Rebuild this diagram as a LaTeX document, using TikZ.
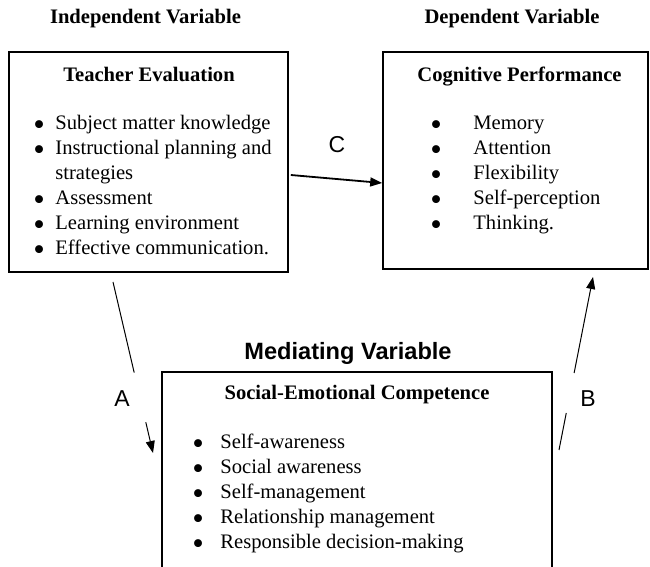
\documentclass[tikz,border=0pt]{standalone}
\usepackage{fontspec}
\setmainfont{Liberation Serif}
\newfontfamily\arialfont{Liberation Sans}
\usetikzlibrary{positioning}
\usetikzlibrary{calc}
\usetikzlibrary{arrows.meta}
\tikzset{varbox/.style={draw, line width=0.8pt, inner sep=0pt}}
\tikzset{boxTitle/.style={anchor=base, inner sep=0pt, font=\fontsize{10.3}{12.5}\selectfont\bfseries}}
\tikzset{itemTxt/.style={anchor=base west, inner sep=0pt, font=\fontsize{10.3}{12.5}\selectfont}}
\tikzset{pathLbl/.style={anchor=base, inner sep=0pt, font=\arialfont\fontsize{11.5}{13}\selectfont}}
\tikzset{thinArr/.style={line width=0.5pt, -{Triangle[length=6pt,width=4.5pt]}}}
\tikzset{thickArr/.style={line width=0.9pt, -{Triangle[length=6pt,width=4.5pt]}}}
\newcommand{\bul}[1]{\makebox[#1][l]{\smash{\raisebox{-2.9pt}{\scalebox{1.6}{\textbullet}}}}}

\begin{document}
\begin{tikzpicture}[x=0.5pt, y=-0.5pt]
\useasboundingbox (0,0) rectangle (650,567);

% variable headings
\node[boxTitle] (indHead) at (145.5,24) {Independent Variable};
\node[boxTitle] (depHead) at (512,24) {Dependent Variable};
\node[anchor=base, inner sep=0pt, font=\arialfont\fontsize{11.8}{14}\selectfont\bfseries] (medHead) at (348,360) {Mediating Variable};

% the three boxes
\node[varbox, minimum width=139.5pt, minimum height=110pt] (tchr) at (148.5,162) {};
\node[varbox, minimum width=132.5pt, minimum height=108.5pt] (cogn) at (515.5,160.5) {};
\node[varbox, minimum width=195pt, minimum height=106.5pt] (sec) at (357,478.5) {};

\node[boxTitle] (tchrTitle) at (149,82) {Teacher Evaluation};
\node[boxTitle] (cognTitle) at (519.5,82) {Cognitive Performance};
\node[boxTitle] (secTitle) at (357,400) {Social-Emotional Competence};

\node[itemTxt] (t1) at (33,130) {\bul{11pt}Subject matter knowledge};
\node[itemTxt] (t2) at (33,155) {\bul{11pt}Instructional planning and};
\node[itemTxt] (t2b) at (55,180) {strategies};
\node[itemTxt] (t3) at (33,205) {\bul{11pt}Assessment};
\node[itemTxt] (t4) at (33,230) {\bul{11pt}Learning environment};
\node[itemTxt] (t5) at (33,255) {\bul{11pt}Effective communication.};

\node[itemTxt] (c1) at (430,130) {\bul{21.5pt}Memory};
\node[itemTxt] (c2) at (430,155) {\bul{21.5pt}Attention};
\node[itemTxt] (c3) at (430,180) {\bul{21.5pt}Flexibility};
\node[itemTxt] (c4) at (430,205) {\bul{21.5pt}Self-perception};
\node[itemTxt] (c5) at (430,230) {\bul{21.5pt}Thinking.};

\node[itemTxt] (s1) at (192,449) {\bul{14pt}Self-awareness};
\node[itemTxt] (s2) at (192,474) {\bul{14pt}Social awareness};
\node[itemTxt] (s3) at (192,499) {\bul{14pt}Self-management};
\node[itemTxt] (s4) at (192,524) {\bul{14pt}Relationship management};
\node[itemTxt] (s5) at (192,549) {\bul{14pt}Responsible decision-making};

% paths
\coordinate (aTop) at (113,282);
\coordinate (aEnd) at (153,453);
\coordinate (bBot) at (559,450);
\coordinate (bTip) at (593,277);

\draw[thinArr] (aTop) -- ($(aTop)!0.53!(aEnd)$) ($(aTop)!0.82!(aEnd)$) -- (aEnd);
\draw[thinArr] (bBot) -- ($(bBot)!0.214!(bTip)$) ($(bBot)!0.445!(bTip)$) -- (bTip);
\draw[thickArr] ([xshift=1pt,yshift=-6.5pt]tchr.east) -- ([yshift=-11.25pt]cogn.west);

\node[pathLbl] (lblA) at (122,407) {A};
\node[pathLbl] (lblB) at (588,407) {B};
\node[pathLbl] (lblC) at (337,153) {C};

\end{tikzpicture}
\end{document}
